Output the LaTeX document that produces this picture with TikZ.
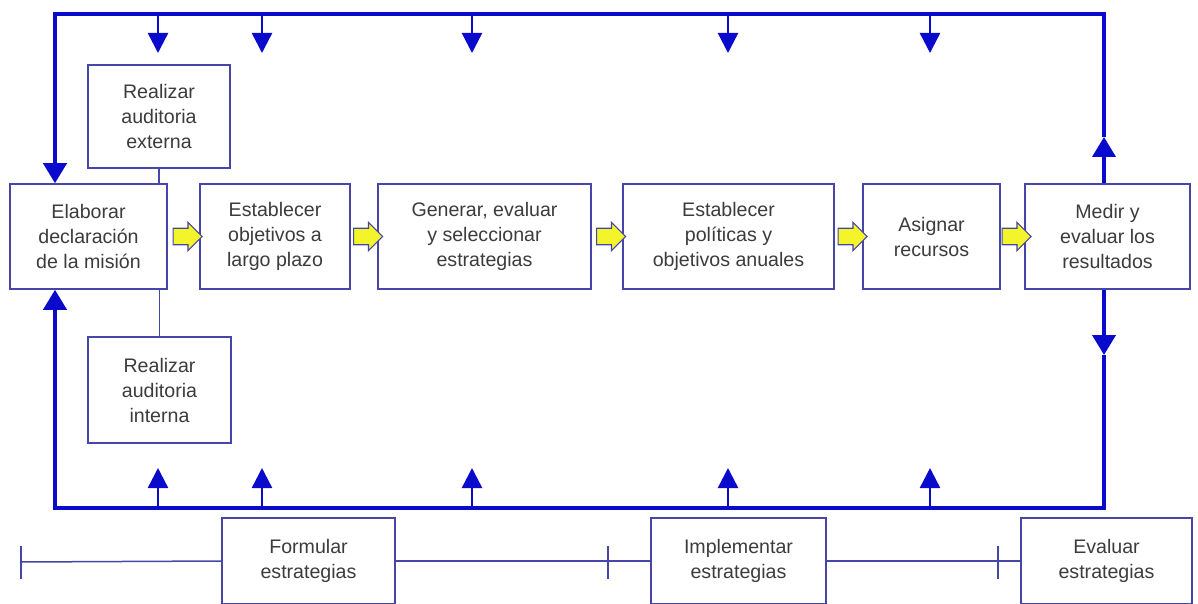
\documentclass[tikz,border=0pt]{standalone}
\usepackage{fontspec}
\setmainfont{Liberation Sans}
\usetikzlibrary{arrows.meta,shapes.arrows,calc}

\definecolor{boxblue}{HTML}{4646A8}
\definecolor{loopblue}{HTML}{0A0ACC}
\definecolor{txtgray}{HTML}{3C3C3C}
\definecolor{arrowyellow}{HTML}{F4F42A}

\begin{document}
\begin{tikzpicture}[x=0.5pt,y=-0.5pt,
    box/.style={draw=boxblue, line width=0.75pt, fill=white, align=center,
        text=txtgray, inner sep=2pt,
        font=\fontsize{9.8}{12.5}\selectfont},
    thin/.style={draw=boxblue, line width=0.75pt},
    loop/.style={draw=loopblue, line width=2pt},
    bigtip/.style={-{Triangle[width=11.5pt,length=10pt]}},
    small/.style={draw=loopblue, line width=1.2pt, -{Triangle[width=10pt,length=10pt]}},
    yarrow/.style={single arrow, draw=boxblue, fill=arrowyellow, line width=0.6pt,
        inner xsep=0pt, inner ysep=3.8pt, minimum height=14.5pt,
        single arrow head extend=3pt, single arrow head indent=0pt}]
    \useasboundingbox (0,0) rectangle (1198,604);

    % main row
    \node[box, minimum width=78.5pt, minimum height=52.5pt] (mision) at (88.5,236.5) {Elaborar\\declaración\\de la misión};
    \node[box, minimum width=75pt, minimum height=52.5pt] (objetivos) at (275,236.5) {Establecer\\objetivos a\\largo plazo};
    \node[box, minimum width=106.5pt, minimum height=52.5pt] (generar) at (484.5,236.5) {Generar, evaluar\\y seleccionar\\estrategias};
    \node[box, minimum width=105.5pt, minimum height=52.5pt] (politicas) at (728.5,236.5) {Establecer\\políticas y\\objetivos anuales};
    \node[box, minimum width=68.5pt, minimum height=52.5pt] (asignar) at (931.5,236.5) {Asignar\\recursos};
    \node[box, minimum width=82.5pt, minimum height=52.5pt] (medir) at (1107.5,236.5) {Medir y\\evaluar los\\resultados};

    % audits
    \node[box, minimum width=71pt, minimum height=51.5pt] (externa) at (159,116.5) {Realizar\\auditoria\\externa};
    \node[box, minimum width=71.5pt, minimum height=53pt] (interna) at (159.5,390) {Realizar\\auditoria\\interna};
    \draw[thin] (externa.south) -- (externa.south |- mision.north);
    \draw[thin] (interna.north) -- (interna.north |- mision.south);

    \foreach \a/\b in {mision/objetivos, objetivos/generar, generar/politicas, politicas/asignar, asignar/medir}
        \node[yarrow] (y-\a) at ($(\a.east)!0.5!(\b.west)$) {};

    % feedback loop
    \coordinate (tl) at (55,14);
    \coordinate (tr) at (1104,14);
    \coordinate (bl) at (55,508);
    \coordinate (br) at (1104,508);
    \coordinate (uptip) at (1104,137);
    \coordinate (downtip) at (1104,355);
    \draw[loop, bigtip] (tr |- medir.north) -- (uptip);
    \draw[loop, bigtip] (uptip) -- (tr) -- (tl) -- (tl |- mision.north);
    \draw[loop, bigtip] (br |- medir.south) -- (downtip);
    \draw[loop, bigtip] (downtip) -- (br) -- (bl) -- (bl |- mision.south);

    \foreach \x in {158,262,472,728,930} {
        \draw[small] (\x,14) -- (\x,53);
        \draw[small] (\x,508) -- (\x,468);
    }

    % stages
    \node[box, minimum width=86.5pt, minimum height=43pt] (formular) at (308.5,561) {Formular\\estrategias};
    \node[box, minimum width=87.5pt, minimum height=43pt] (implementar) at (738.5,561) {Implementar\\estrategias};
    \node[box, minimum width=85.5pt, minimum height=43pt] (evaluar) at (1106.5,561) {Evaluar\\estrategias};
    \coordinate (tick1) at (21,562);
    \coordinate (tick2) at (608,562);
    \coordinate (tick3) at (998,562);
    \draw[thin] (tick1) -- (formular.west);
    \draw[thin] (formular.east) -- (implementar.west);
    \draw[thin] (implementar.east) -- (evaluar.west);
    \foreach \t in {tick1,tick2,tick3}
        \draw[thin] ($(\t)+(0,-16)$) -- ($(\t)+(0,17)$);
\end{tikzpicture}
\end{document}
